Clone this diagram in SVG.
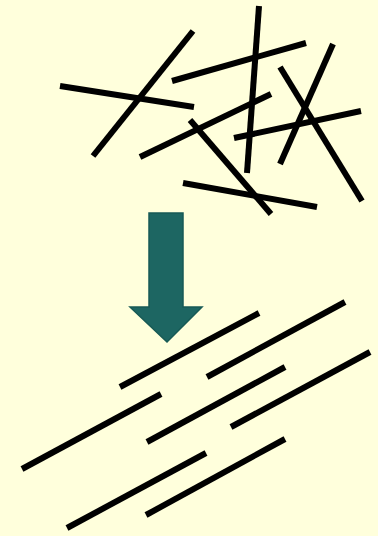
<svg xmlns="http://www.w3.org/2000/svg" width="378" height="536" viewBox="0 0 378 536">
<style>
.s{stroke:#000;stroke-width:6;fill:none;stroke-linecap:butt}
.arrow{fill:#1d6662;stroke:#175a55;stroke-width:1.5}
</style>
<rect width="378" height="536" fill="#ffffdc"/>
<g id="tangled">
<line class="s" x1="193" y1="31" x2="93" y2="156"/>
<line class="s" x1="60" y1="86" x2="194" y2="107"/>
<line class="s" x1="172" y1="81" x2="306" y2="43"/>
<line class="s" x1="259" y1="6" x2="247" y2="173"/>
<line class="s" x1="140" y1="157" x2="271" y2="94"/>
<line class="s" x1="190" y1="120" x2="271" y2="214"/>
<line class="s" x1="183" y1="183" x2="317" y2="207"/>
<line class="s" x1="333" y1="44" x2="280" y2="164"/>
<line class="s" x1="280" y1="67" x2="362" y2="201"/>
<line class="s" x1="234" y1="138" x2="361" y2="111"/>
</g>
<g id="arrow">
<path class="arrow" d="M149,213 L183,213 L183,307 L202,307 L167,342 L130,307 L149,307 Z"/>
</g>
<g id="aligned">
<line class="s" x1="120" y1="387" x2="259" y2="313"/>
<line class="s" x1="207" y1="377" x2="345" y2="302"/>
<line class="s" x1="22" y1="469" x2="161" y2="394"/>
<line class="s" x1="147" y1="442" x2="285" y2="367"/>
<line class="s" x1="231" y1="427" x2="370" y2="352"/>
<line class="s" x1="67" y1="528" x2="206" y2="453"/>
<line class="s" x1="146" y1="515" x2="285" y2="439"/>
</g>
</svg>
